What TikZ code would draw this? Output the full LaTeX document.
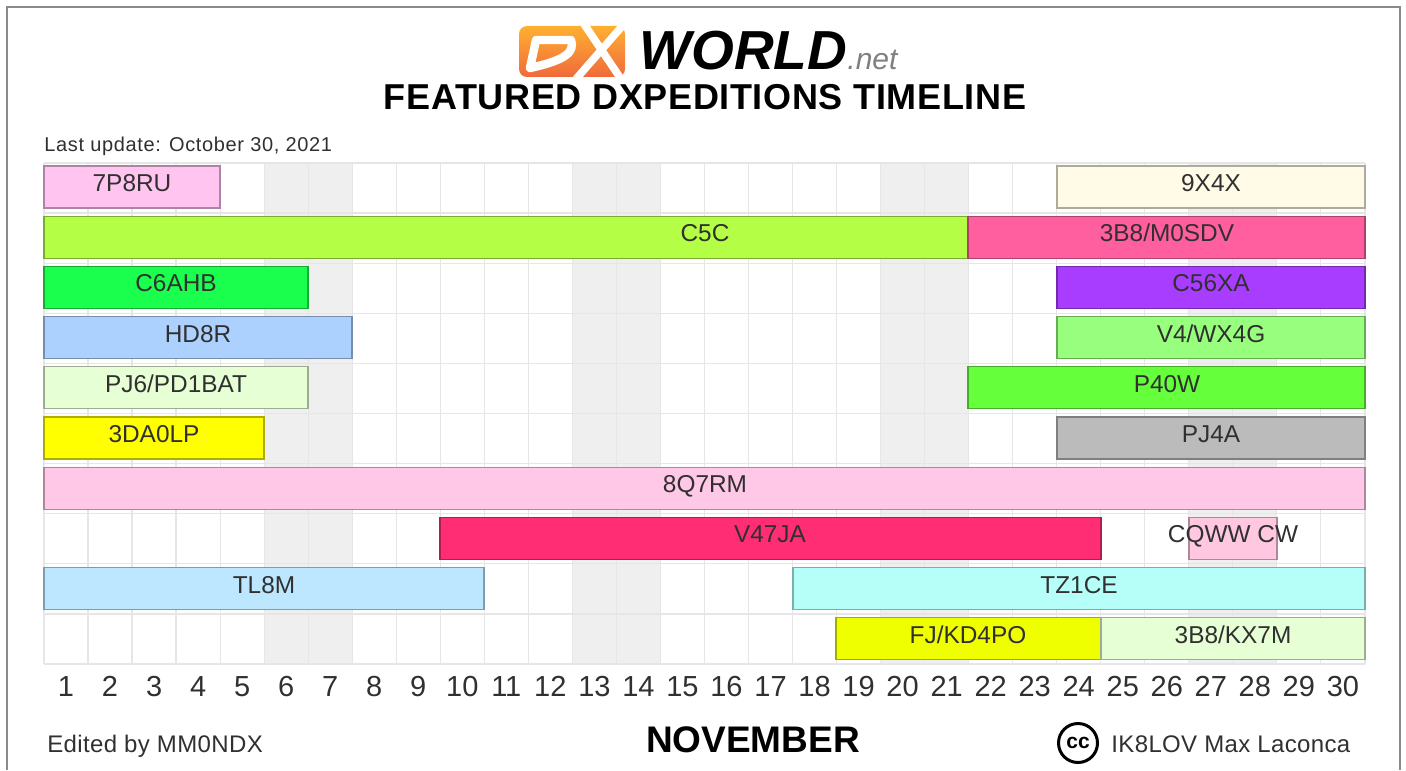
\documentclass[tikz,border=0pt]{standalone}
\usepackage{fontspec}
\setmainfont{Liberation Sans}
\usetikzlibrary{calc}
\definecolor{cA}{HTML}{FFC4F0}\definecolor{cB}{HTML}{FFFBE6}\definecolor{cC}{HTML}{B4FF45}
\definecolor{cD}{HTML}{FF5F9E}\definecolor{cE}{HTML}{1AFF4D}\definecolor{cF}{HTML}{A83CFF}
\definecolor{cG}{HTML}{ADD1FF}\definecolor{cH}{HTML}{98FF7E}\definecolor{cI}{HTML}{E6FFD5}
\definecolor{cJ}{HTML}{66FF3C}\definecolor{cK}{HTML}{FFFF00}\definecolor{cL}{HTML}{BBBBBB}
\definecolor{cM}{HTML}{FFC8E6}\definecolor{cN}{HTML}{FF2E74}\definecolor{cO}{HTML}{FFC8E0}
\definecolor{cP}{HTML}{BDE6FF}\definecolor{cQ}{HTML}{B6FFF8}\definecolor{cR}{HTML}{F0FF00}
\definecolor{gridc}{HTML}{E6E6E6}\definecolor{wkend}{HTML}{EFEFEF}\definecolor{txt}{HTML}{303030}
\definecolor{framec}{HTML}{8A8A8A}\definecolor{logotop}{HTML}{FFB030}\definecolor{logobot}{HTML}{F06A3C}
\tikzset{
  barbox/.style={rectangle,inner sep=0pt,outer sep=0pt,line width=0.55pt},
  barlabel/.style={anchor=base,inner sep=0pt,text=txt,font=\fontsize{12.2}{14}\selectfont},
  daylabel/.style={anchor=base,inner sep=0pt,text=txt,font=\fontsize{14.5}{16}\selectfont},
  footlabel/.style={anchor=base west,inner sep=0pt,text=txt,font=\fontsize{12}{14}\addfontfeature{LetterSpace=1.5}},
}
% \dxbar{name}{x1}{x2}{row}{colour}{label x}{text}
\newcommand{\dxbar}[7]{%
  \pgfmathsetmacro{\bw}{(#3-#2)*0.5}%
  \pgfmathsetmacro{\bc}{(#3+#2)/2}%
  \pgfmathsetmacro{\by}{187+50.2*#4}%
  \node[barbox,fill=#5,draw=#5!68!black,minimum width=\bw pt,minimum height=21pt] (#1) at (\bc,\by) {};
  \pgfmathsetmacro{\lx}{#6}%
  \node[barlabel] (#1-t) at (\lx,\by+4.5) {#7};
}
\begin{document}
\begin{tikzpicture}[x=0.5pt,y=-0.5pt]
\useasboundingbox (0,0) rectangle (1406,770);
% frame
\coordinate (fa) at (7,770); \coordinate (fb) at (7,7); \coordinate (fc) at (1400,7); \coordinate (fd) at (1400,770);
\draw[framec,line width=0.8pt] (fa) -- (fb) -- (fc) -- (fd);
% weekends
\foreach \a/\b in {264/352,572/660,880/968,1188/1277}{\fill[wkend] (\a,163) rectangle (\b,664);}
% grid
\foreach \i in {0,...,30}{\draw[gridc,line width=0.6pt] ({44+44.03*\i},163) -- ({44+44.03*\i},664);}
\foreach \i in {0,...,10}{\draw[gridc,line width=0.6pt] (44,{163+50.1*\i}) -- (1365,{163+50.1*\i});}
% bars
\dxbar{a1}{44}{220}{0}{cA}{132}{7P8RU}
\dxbar{a2}{1057}{1365}{0}{cB}{1211}{9X4X}
\dxbar{b1}{44}{968}{1}{cC}{705}{C5C}
\dxbar{b2}{968}{1365}{1}{cD}{1167}{3B8/M0SDV}
\dxbar{c1}{44}{308}{2}{cE}{176}{C6AHB}
\dxbar{c2}{1057}{1365}{2}{cF}{1211}{C56XA}
\dxbar{d1}{44}{352}{3}{cG}{198}{HD8R}
\dxbar{d2}{1057}{1365}{3}{cH}{1211}{V4/WX4G}
\dxbar{e1}{44}{308}{4}{cI}{176}{PJ6/PD1BAT}
\dxbar{e2}{968}{1365}{4}{cJ}{1167}{P40W}
\dxbar{f1}{44}{264}{5}{cK}{154}{3DA0LP}
\dxbar{f2}{1057}{1365}{5}{cL}{1211}{PJ4A}
\dxbar{g1}{44}{1365}{6}{cM}{705}{8Q7RM}
\dxbar{h1}{440}{1101}{7}{cN}{770}{V47JA}
\dxbar{h2}{1189}{1277}{7}{cO}{1233}{CQWW CW}
\dxbar{i1}{44}{484}{8}{cP}{264}{TL8M}
\dxbar{i2}{793}{1365}{8}{cQ}{1079}{TZ1CE}
\dxbar{j1}{836}{1101}{9}{cR}{968}{FJ/KD4PO}
\dxbar{j2}{1101}{1365}{9}{cI}{1233}{3B8/KX7M}
% day numbers
\foreach \d in {1,...,30}{\node[daylabel] (day\d) at ({44+44.03*(\d-0.5)},696) {\d};}
% logo
\shade[top color=logotop,bottom color=logobot,rounded corners=4pt]
  (519,26) -- (625,26) -- (625,77) -- (519,77) -- cycle;
\draw[white,line width=4.2pt,line join=round]
  (536,40) -- (571,40) .. controls (575,52) and (566,60) .. (530,68) -- cycle;
\draw[white,line width=3.8pt] (584,24) -- (621,79) (624,24) -- (576,79);
\node[anchor=base west,inner sep=0pt,font=\fontsize{27.5}{30}\selectfont\bfseries\itshape] (logo) at (639,70) {WORLD};
\node[anchor=base west,inner sep=0pt,text=gray,font=\fontsize{15}{16}\selectfont\itshape] (lognet) at (847,70) {.net};
% title
\node[anchor=base,inner sep=0pt,text=black,font=\fontsize{18}{20}\bfseries\addfontfeature{LetterSpace=1.8}] (title) at (705,110) {FEATURED DXPEDITIONS TIMELINE};
\node[anchor=base west,inner sep=0pt,text=txt,font=\fontsize{10}{11}\addfontfeature{LetterSpace=3.2}] (upd) at (44,152) {Last update: October 30, 2021};
% footer
\node[footlabel] (ed) at (47,752) {Edited by MM0NDX};
\node[anchor=base,inner sep=0pt,text=black,font=\fontsize{18.5}{20}\selectfont\bfseries] (month) at (753,752) {NOVEMBER};
\node[draw=black,circle,line width=1.5pt,minimum size=19.5pt,inner sep=0pt,font=\fontsize{10.5}{10}\selectfont\bfseries] (cc) at (1078,743) {cc};
\node[footlabel] (auth) at (1111,752) {IK8LOV Max Laconca};
\end{tikzpicture}
\end{document}
